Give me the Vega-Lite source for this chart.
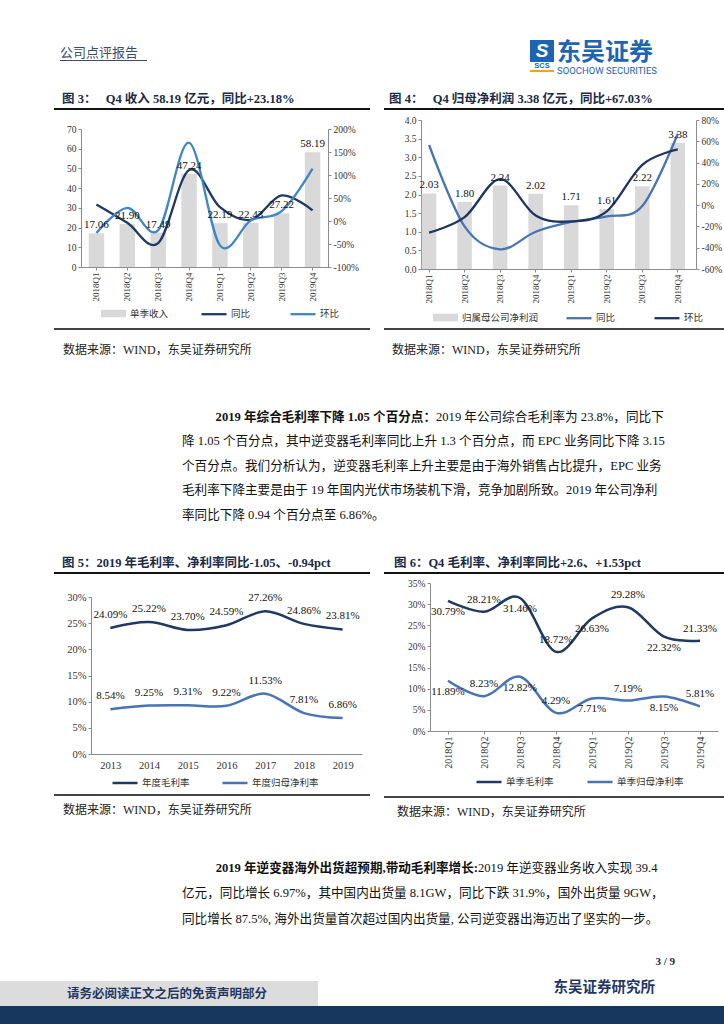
{
  "$schema": "https://vega.github.io/schema/vega-lite/v6.json",
  "padding": 0,
  "background": "#ffffff",
  "spacing": 0,
  "resolve": {"scale": {"fill": "independent", "stroke": "independent"}},
  "datasets": {"one": [{}]},
  "config": {
    "view": {"stroke": null},
    "font": "Liberation Serif, Noto Sans CJK SC",
    "axis": {"labelFont": "Liberation Serif, Noto Sans CJK SC", "labelFontSize": 9.5, "labelColor": "#333333", "domainColor": "#8c8c8c", "tickColor": "#8c8c8c", "tickSize": 3, "grid": false, "labelPadding": 2},
    "legend": {"labelFont": "Liberation Serif, Noto Sans CJK SC", "labelFontSize": 9.5, "labelColor": "#333333", "labelOffset": 3, "padding": 0},
    "title": {"font": "Liberation Serif, Noto Sans CJK SC", "frame": "group"},
    "text": {"font": "Liberation Serif, Noto Sans CJK SC"},
    "locale": {"number": {"decimal": ".", "thousands": ",", "grouping": [3], "currency": ["$", ""], "minus": "-"}}
  },
  "vconcat": [
    {"width": 724, "height": 35, "data": {"name": "one"}, "mark": {"type": "text", "fontSize": 0, "text": ""}},
    {"spacing": 0, "hconcat": [
      {"width": 60, "height": 1, "data": {"name": "one"}, "mark": {"type": "text", "fontSize": 0, "text": ""}},
      {"spacing": 0, "vconcat": [
        {"width": 87, "height": 25, "data": {"name": "one"}, "mark": {"type": "text", "fontSize": 0, "text": ""},
         "title": {"text": "公司点评报告", "orient": "bottom", "anchor": "start", "offset": -13.3, "fontSize": 13, "color": "#3b4d6e", "fontWeight": "normal"}},
        {"width": 87, "height": 1, "view": {"fill": "#3b4d6e", "stroke": null}, "data": {"name": "one"}, "mark": {"type": "text", "fontSize": 0, "text": ""}}
      ]},
      {"width": 383, "height": 1, "data": {"name": "one"}, "mark": {"type": "text", "fontSize": 0, "text": ""}},
      {"spacing": 0, "vconcat": [
        {"width": 24, "height": 5, "data": {"name": "one"}, "mark": {"type": "text", "fontSize": 0, "text": ""}},
        {"width": 24, "height": 22, "view": {"fill": "#1e64b4", "stroke": null}, "data": {"name": "one"}, "mark": {"type": "text", "text": "S", "color": "#ffffff", "fontSize": 19, "fontWeight": "bold", "fontStyle": "italic", "font": "Liberation Sans", "baseline": "middle"}},
        {"width": 24, "height": 8, "data": {"name": "one"}, "mark": {"type": "text", "text": "SCS", "color": "#1e64b4", "fontSize": 7.5, "fontWeight": "bold", "font": "Liberation Sans", "baseline": "middle"}},
        {"width": 24, "height": 2, "view": {"fill": "#f2a21b", "stroke": null}, "data": {"name": "one"}, "mark": {"type": "text", "fontSize": 0, "text": ""}}
      ]},
      {"width": 3, "height": 1, "data": {"name": "one"}, "mark": {"type": "text", "fontSize": 0, "text": ""}},
      {"width": 120, "height": 41, "data": {"name": "one"}, "mark": {"type": "text", "fontSize": 0, "text": ""},
       "title": {"text": "东吴证券", "subtitle": "SOOCHOW SECURITIES", "orient": "bottom", "anchor": "start", "offset": -35, "fontSize": 24, "fontWeight": "bold", "font": "Noto Sans CJK SC", "color": "#1e64b4", "subtitleFont": "Liberation Sans Narrow, Roboto", "subtitleFontSize": 9.5, "subtitleColor": "#1e64b4", "subtitlePadding": 1}}
    ]},
    {"width": 724, "height": 16, "data": {"name": "one"}, "mark": {"type": "text", "fontSize": 0, "text": ""}},
    {"spacing": 0, "resolve": {"scale": {"fill": "independent", "stroke": "independent"}}, "hconcat": [
      {"width": 54, "height": 1, "data": {"name": "one"}, "mark": {"type": "text", "fontSize": 0, "text": ""}},
      {"spacing": 0, "resolve": {"scale": {"fill": "independent", "stroke": "independent"}}, "vconcat": [
        {"width": 316, "height": 16, "data": {"name": "one"}, "mark": {"type": "text", "fontSize": 0, "text": ""},
         "title": {"text": "图 3：\u00a0\u00a0\u00a0Q4 收入 58.19 亿元，同比+23.18%", "orient": "bottom", "anchor": "start", "offset": -15.1, "dx": 8, "fontSize": 12.5, "fontWeight": "bold", "color": "#1b2a47"}},
        {"width": 316, "height": 2, "view": {"fill": "#111111", "stroke": null}, "data": {"name": "one"}, "mark": {"type": "text", "fontSize": 0, "text": ""}},
        {"width": 316, "height": 14, "data": {"name": "one"}, "mark": {"type": "text", "fontSize": 0, "text": ""}},
        {"spacing": 0, "resolve": {"scale": {"fill": "independent", "stroke": "independent"}}, "hconcat": [
          {"width": 12, "height": 1, "data": {"name": "one"}, "mark": {"type": "text", "fontSize": 0, "text": ""}},
          {"width": 247, "height": 138,
           "data": {"values": [
             {"q": "2018Q1", "rev": 17.06, "yoy": 0.36, "qoq": -0.26},
             {"q": "2018Q2", "rev": 21.90, "yoy": -0.04, "qoq": 0.284},
             {"q": "2018Q3", "rev": 17.49, "yoy": -0.48, "qoq": -0.201},
             {"q": "2018Q4", "rev": 47.24, "yoy": 1.11, "qoq": 1.701},
             {"q": "2019Q1", "rev": 22.19, "yoy": 0.301, "qoq": -0.530},
             {"q": "2019Q2", "rev": 22.43, "yoy": 0.024, "qoq": 0.011},
             {"q": "2019Q3", "rev": 27.22, "yoy": 0.556, "qoq": 0.214},
             {"q": "2019Q4", "rev": 58.19, "yoy": 0.2318, "qoq": 1.138}
           ]},
           "layer": [
             {"mark": {"type": "bar"},
              "encoding": {
                "x": {"field": "q", "type": "nominal", "sort": null, "scale": {"paddingInner": 0.5, "paddingOuter": 0.25}, "axis": {"title": null, "labelAngle": -90, "labelFontSize": 9}},
                "y": {"field": "rev", "type": "quantitative", "scale": {"domain": [0, 70], "nice": false}, "axis": {"title": null, "orient": "left", "values": [0, 10, 20, 30, 40, 50, 60, 70], "format": "d"}},
                "fill": {"datum": "单季收入", "scale": {"domain": ["单季收入"], "range": ["#d9d9d9"]},
                         "legend": {"orient": "none", "legendX": 19, "legendY": 171, "title": null, "symbolType": "M-1,-0.3H1V0.3H-1Z", "symbolSize": 625}}
              }},
             {"mark": {"type": "line", "interpolate": "cardinal", "strokeWidth": 2.3},
              "encoding": {
                "x": {"field": "q", "type": "nominal", "sort": null},
                "y": {"field": "yoy", "type": "quantitative", "scale": {"domain": [-1, 2], "nice": false}, "axis": {"title": null, "orient": "right", "values": [-1, -0.5, 0, 0.5, 1, 1.5, 2], "format": ".0%"}},
                "stroke": {"datum": "同比", "scale": {"domain": ["同比", "环比"], "range": ["#203864", "#3f86c8"]},
                           "legend": {"orient": "none", "legendX": 119, "legendY": 171, "direction": "horizontal", "title": null, "symbolType": "stroke", "symbolSize": 625, "symbolStrokeWidth": 2.3, "columnPadding": 34}}
              }},
             {"mark": {"type": "line", "interpolate": "cardinal", "strokeWidth": 2.3},
              "encoding": {
                "x": {"field": "q", "type": "nominal", "sort": null},
                "y": {"field": "qoq", "type": "quantitative", "scale": {"domain": [-1, 2], "nice": false}, "axis": null},
                "stroke": {"datum": "环比"}
              }},
             {"mark": {"type": "text", "baseline": "bottom", "dy": -3, "fontSize": 11, "color": "#111111"},
              "encoding": {
                "x": {"field": "q", "type": "nominal", "sort": null},
                "y": {"field": "rev", "type": "quantitative", "scale": {"domain": [0, 70], "nice": false}, "axis": null},
                "text": {"field": "rev", "type": "quantitative", "format": ".2f"}
              }}
           ],
           "resolve": {"scale": {"y": "independent"}}
          }
        ]},
        {"width": 316, "height": 9, "data": {"name": "one"}, "mark": {"type": "text", "fontSize": 0, "text": ""}},
        {"width": 316, "height": 2, "view": {"fill": "#444444", "stroke": null}, "data": {"name": "one"}, "mark": {"type": "text", "fontSize": 0, "text": ""}},
        {"width": 316, "height": 24, "data": {"name": "one"}, "mark": {"type": "text", "fontSize": 0, "text": ""},
         "title": {"text": "数据来源：WIND，东吴证券研究所", "orient": "bottom", "anchor": "start", "offset": -8.9, "dx": 9, "fontSize": 12, "fontWeight": "normal", "color": "#222222"}}
      ]},
      {"width": 14, "height": 1, "data": {"name": "one"}, "mark": {"type": "text", "fontSize": 0, "text": ""}},
      {"spacing": 0, "resolve": {"scale": {"fill": "independent", "stroke": "independent"}}, "vconcat": [
        {"width": 340, "height": 16, "data": {"name": "one"}, "mark": {"type": "text", "fontSize": 0, "text": ""},
         "title": {"text": "图 4：\u00a0\u00a0\u00a0Q4 归母净利润 3.38 亿元，同比+67.03%", "orient": "bottom", "anchor": "start", "offset": -15.1, "dx": 5, "fontSize": 12.5, "fontWeight": "bold", "color": "#1b2a47"}},
        {"width": 340, "height": 2, "view": {"fill": "#111111", "stroke": null}, "data": {"name": "one"}, "mark": {"type": "text", "fontSize": 0, "text": ""}},
        {"width": 340, "height": 5, "data": {"name": "one"}, "mark": {"type": "text", "fontSize": 0, "text": ""}},
        {"spacing": 0, "resolve": {"scale": {"fill": "independent", "stroke": "independent"}}, "hconcat": [
          {"width": 20, "height": 1, "data": {"name": "one"}, "mark": {"type": "text", "fontSize": 0, "text": ""}},
          {"width": 275, "height": 149,
           "data": {"values": [
             {"q": "2018Q1", "np": 2.03, "yoy": 0.565, "qoq": -0.259},
             {"q": "2018Q2", "np": 1.80, "yoy": -0.20, "qoq": -0.113},
             {"q": "2018Q3", "np": 2.24, "yoy": -0.415, "qoq": 0.244},
             {"q": "2018Q4", "np": 2.02, "yoy": -0.25, "qoq": -0.098},
             {"q": "2019Q1", "np": 1.71, "yoy": -0.158, "qoq": -0.153},
             {"q": "2019Q2", "np": 1.61, "yoy": -0.106, "qoq": -0.058},
             {"q": "2019Q3", "np": 2.22, "yoy": -0.009, "qoq": 0.379},
             {"q": "2019Q4", "np": 3.38, "yoy": 0.6703, "qoq": 0.523}
           ]},
           "layer": [
             {"mark": {"type": "bar"},
              "encoding": {
                "x": {"field": "q", "type": "nominal", "sort": null, "scale": {"paddingInner": 0.59, "paddingOuter": 0.164, "align": 0.065}, "axis": {"title": null, "labelAngle": -90, "labelFontSize": 9}},
                "y": {"field": "np", "type": "quantitative", "scale": {"domain": [0, 4], "nice": false}, "axis": {"title": null, "orient": "left", "values": [0, 0.5, 1, 1.5, 2, 2.5, 3, 3.5, 4], "format": ".1f"}},
                "fill": {"datum": "归属母公司净利润", "scale": {"domain": ["归属母公司净利润"], "range": ["#d9d9d9"]},
                         "legend": {"orient": "none", "legendX": 11, "legendY": 184, "title": null, "symbolType": "M-1,-0.3H1V0.3H-1Z", "symbolSize": 625}}
              }},
             {"mark": {"type": "line", "interpolate": "cardinal", "strokeWidth": 2.3},
              "encoding": {
                "x": {"field": "q", "type": "nominal", "sort": null},
                "y": {"field": "yoy", "type": "quantitative", "scale": {"domain": [-0.6, 0.8], "nice": false}, "axis": {"title": null, "orient": "right", "values": [-0.6, -0.4, -0.2, 0, 0.2, 0.4, 0.6, 0.8], "format": ".0%"}},
                "stroke": {"datum": "同比", "scale": {"domain": ["同比", "环比"], "range": ["#4873b4", "#1e3560"]},
                           "legend": {"orient": "none", "legendX": 144, "legendY": 184, "direction": "horizontal", "title": null, "symbolType": "stroke", "symbolSize": 625, "symbolStrokeWidth": 2.3, "columnPadding": 33}}
              }},
             {"mark": {"type": "line", "interpolate": "cardinal", "strokeWidth": 2.3},
              "encoding": {
                "x": {"field": "q", "type": "nominal", "sort": null},
                "y": {"field": "qoq", "type": "quantitative", "scale": {"domain": [-0.6, 0.8], "nice": false}, "axis": null},
                "stroke": {"datum": "环比"}
              }},
             {"mark": {"type": "text", "baseline": "bottom", "dy": -3, "fontSize": 11, "color": "#111111"},
              "encoding": {
                "x": {"field": "q", "type": "nominal", "sort": null},
                "y": {"field": "np", "type": "quantitative", "scale": {"domain": [0, 4], "nice": false}, "axis": null},
                "text": {"field": "np", "type": "quantitative", "format": ".2f"}
              }}
           ],
           "resolve": {"scale": {"y": "independent"}}
          }
        ]},
        {"width": 340, "height": 5, "data": {"name": "one"}, "mark": {"type": "text", "fontSize": 0, "text": ""}},
        {"width": 340, "height": 2, "view": {"fill": "#444444", "stroke": null}, "data": {"name": "one"}, "mark": {"type": "text", "fontSize": 0, "text": ""}},
        {"width": 340, "height": 24, "data": {"name": "one"}, "mark": {"type": "text", "fontSize": 0, "text": ""},
         "title": {"text": "数据来源：WIND，东吴证券研究所", "orient": "bottom", "anchor": "start", "offset": -8.9, "dx": 8, "fontSize": 12, "fontWeight": "normal", "color": "#222222"}}
      ]}
    ]},
    {"width": 724, "height": 53, "data": {"name": "one"}, "mark": {"type": "text", "fontSize": 0, "text": ""}},
    {"spacing": 0, "vconcat": [
      {"spacing": 0, "hconcat": [
        {"width": 436, "height": 25, "data": {"name": "one"}, "mark": {"type": "text", "fontSize": 0, "text": ""},
         "title": {"text": "2019 年综合毛利率下降 1.05 个百分点：", "orient": "bottom", "anchor": "end", "offset": -24.3, "fontSize": 12.6, "fontWeight": "bold", "color": "#111111"}},
        {"width": 288, "height": 25, "data": {"name": "one"}, "mark": {"type": "text", "fontSize": 0, "text": ""},
         "title": {"text": "2019 年公司综合毛利率为 23.8%，同比下", "orient": "bottom", "anchor": "start", "offset": -24.3, "fontSize": 12.6, "fontWeight": "normal", "color": "#111111"}}
      ]},
      {"width": 700, "height": 100, "data": {"name": "one"}, "mark": {"type": "text", "fontSize": 0, "text": ""},
       "title": {"text": ["降 1.05 个百分点，其中逆变器毛利率同比上升 1.3 个百分点，而 EPC 业务同比下降 3.15", "个百分点。我们分析认为，逆变器毛利率上升主要是由于海外销售占比提升，EPC 业务", "毛利率下降主要是由于 19 年国内光伏市场装机下滑，竞争加剧所致。2019 年公司净利", "率同比下降 0.94 个百分点至 6.86%。"], "orient": "bottom", "anchor": "start", "dx": 182, "offset": -99.7, "lineHeight": 24.6, "fontSize": 12.6, "fontWeight": "normal", "color": "#111111"}}
    ]},
    {"width": 724, "height": 21, "data": {"name": "one"}, "mark": {"type": "text", "fontSize": 0, "text": ""}},
    {"spacing": 0, "resolve": {"scale": {"fill": "independent", "stroke": "independent"}}, "hconcat": [
      {"width": 54, "height": 1, "data": {"name": "one"}, "mark": {"type": "text", "fontSize": 0, "text": ""}},
      {"spacing": 0, "resolve": {"scale": {"fill": "independent", "stroke": "independent"}}, "vconcat": [
        {"width": 316, "height": 16, "data": {"name": "one"}, "mark": {"type": "text", "fontSize": 0, "text": ""},
         "title": {"text": "图 5：2019 年毛利率、净利率同比-1.05、-0.94pct", "orient": "bottom", "anchor": "start", "offset": -15.1, "dx": 8, "fontSize": 12.5, "fontWeight": "bold", "color": "#1b2a47"}},
        {"width": 316, "height": 2, "view": {"fill": "#111111", "stroke": null}, "data": {"name": "one"}, "mark": {"type": "text", "fontSize": 0, "text": ""}},
        {"width": 316, "height": 18, "data": {"name": "one"}, "mark": {"type": "text", "fontSize": 0, "text": ""}},
        {"spacing": 0, "resolve": {"scale": {"fill": "independent", "stroke": "independent"}}, "hconcat": [
          {"width": 12, "height": 1, "data": {"name": "one"}, "mark": {"type": "text", "fontSize": 0, "text": ""}},
          {"width": 271, "height": 157,
           "data": {"values": [
             {"year": "2013", "年度毛利率": 0.2409, "年度归母净利率": 0.0854},
             {"year": "2014", "年度毛利率": 0.2522, "年度归母净利率": 0.0925},
             {"year": "2015", "年度毛利率": 0.2370, "年度归母净利率": 0.0931},
             {"year": "2016", "年度毛利率": 0.2459, "年度归母净利率": 0.0922},
             {"year": "2017", "年度毛利率": 0.2726, "年度归母净利率": 0.1153},
             {"year": "2018", "年度毛利率": 0.2486, "年度归母净利率": 0.0781},
             {"year": "2019", "年度毛利率": 0.2381, "年度归母净利率": 0.0686}
           ]},
           "transform": [{"fold": ["年度毛利率", "年度归母净利率"], "as": ["series", "v"]}],
           "encoding": {
             "x": {"field": "year", "type": "ordinal", "sort": null, "scale": {"type": "point", "padding": 0.5}, "axis": {"title": null, "labelAngle": 0, "labelFontSize": 10.5, "ticks": false, "labelPadding": 6}},
             "y": {"field": "v", "type": "quantitative", "scale": {"domain": [0, 0.3], "nice": false}, "axis": {"title": null, "values": [0, 0.05, 0.1, 0.15, 0.2, 0.25, 0.3], "format": ".0%", "labelFontSize": 10.5}}
           },
           "layer": [
             {"mark": {"type": "line", "interpolate": "cardinal", "strokeWidth": 2.5},
              "encoding": {"stroke": {"field": "series", "type": "nominal", "scale": {"domain": ["年度毛利率", "年度归母净利率"], "range": ["#203864", "#4873b4"]},
                "legend": {"orient": "none", "legendX": 20, "legendY": 172, "direction": "horizontal", "title": null, "symbolType": "stroke", "symbolSize": 625, "symbolStrokeWidth": 2.5, "columnPadding": 27}}}},
             {"mark": {"type": "text", "baseline": "bottom", "dy": -8, "fontSize": 11, "color": "#111111"},
              "encoding": {"text": {"field": "v", "type": "quantitative", "format": ".2%"}}}
           ]
          }
        ]},
        {"width": 316, "height": 6, "data": {"name": "one"}, "mark": {"type": "text", "fontSize": 0, "text": ""}},
        {"width": 316, "height": 2, "view": {"fill": "#444444", "stroke": null}, "data": {"name": "one"}, "mark": {"type": "text", "fontSize": 0, "text": ""}},
        {"width": 316, "height": 24, "data": {"name": "one"}, "mark": {"type": "text", "fontSize": 0, "text": ""},
         "title": {"text": "数据来源：WIND，东吴证券研究所", "orient": "bottom", "anchor": "start", "offset": -14.9, "dx": 9, "fontSize": 12, "fontWeight": "normal", "color": "#222222"}}
      ]},
      {"width": 14, "height": 1, "data": {"name": "one"}, "mark": {"type": "text", "fontSize": 0, "text": ""}},
      {"spacing": 0, "resolve": {"scale": {"fill": "independent", "stroke": "independent"}}, "vconcat": [
        {"width": 340, "height": 16, "data": {"name": "one"}, "mark": {"type": "text", "fontSize": 0, "text": ""},
         "title": {"text": "图 6：Q4 毛利率、净利率同比+2.6、+1.53pct", "orient": "bottom", "anchor": "start", "offset": -15.1, "dx": 10, "fontSize": 12.5, "fontWeight": "bold", "color": "#1b2a47"}},
        {"width": 340, "height": 2, "view": {"fill": "#111111", "stroke": null}, "data": {"name": "one"}, "mark": {"type": "text", "fontSize": 0, "text": ""}},
        {"width": 340, "height": 4, "data": {"name": "one"}, "mark": {"type": "text", "fontSize": 0, "text": ""}},
        {"spacing": 0, "resolve": {"scale": {"fill": "independent", "stroke": "independent"}}, "hconcat": [
          {"width": 23, "height": 1, "data": {"name": "one"}, "mark": {"type": "text", "fontSize": 0, "text": ""}},
          {"width": 288, "height": 148,
           "data": {"values": [
             {"q": "2018Q1", "单季毛利率": 0.3079, "单季归母净利率": 0.1189},
             {"q": "2018Q2", "单季毛利率": 0.2821, "单季归母净利率": 0.0823},
             {"q": "2018Q3", "单季毛利率": 0.3146, "单季归母净利率": 0.1282},
             {"q": "2018Q4", "单季毛利率": 0.1872, "单季归母净利率": 0.0429},
             {"q": "2019Q1", "单季毛利率": 0.2663, "单季归母净利率": 0.0771},
             {"q": "2019Q2", "单季毛利率": 0.2928, "单季归母净利率": 0.0719},
             {"q": "2019Q3", "单季毛利率": 0.2232, "单季归母净利率": 0.0815},
             {"q": "2019Q4", "单季毛利率": 0.2133, "单季归母净利率": 0.0581}
           ]},
           "transform": [{"fold": ["单季毛利率", "单季归母净利率"], "as": ["series", "v"]}],
           "encoding": {
             "x": {"field": "q", "type": "ordinal", "sort": null, "scale": {"type": "point", "padding": 0.5}, "axis": {"title": null, "labelAngle": -90, "labelFontSize": 10}},
             "y": {"field": "v", "type": "quantitative", "scale": {"domain": [0, 0.35], "nice": false}, "axis": {"title": null, "values": [0, 0.05, 0.1, 0.15, 0.2, 0.25, 0.3, 0.35], "format": ".0%"}}
           },
           "layer": [
             {"mark": {"type": "line", "interpolate": "cardinal", "strokeWidth": 2.5},
              "encoding": {"stroke": {"field": "series", "type": "nominal", "scale": {"domain": ["单季毛利率", "单季归母净利率"], "range": ["#203864", "#4873b4"]},
                "legend": {"orient": "none", "legendX": 45, "legendY": 185, "direction": "horizontal", "title": null, "symbolType": "stroke", "symbolSize": 625, "symbolStrokeWidth": 2.5, "columnPadding": 28}}}},
             {"transform": [{"filter": "test(/Q[24]$/, datum.q)"}],
              "mark": {"type": "text", "baseline": "bottom", "dy": -7, "fontSize": 11, "color": "#111111"},
              "encoding": {"text": {"field": "v", "type": "quantitative", "format": ".2%"}}},
             {"transform": [{"filter": "test(/Q[13]$/, datum.q)"}],
              "mark": {"type": "text", "baseline": "top", "dy": 5, "fontSize": 11, "color": "#111111"},
              "encoding": {"text": {"field": "v", "type": "quantitative", "format": ".2%"}}}
           ]
          }
        ]},
        {"width": 340, "height": 9, "data": {"name": "one"}, "mark": {"type": "text", "fontSize": 0, "text": ""}},
        {"width": 340, "height": 2, "view": {"fill": "#444444", "stroke": null}, "data": {"name": "one"}, "mark": {"type": "text", "fontSize": 0, "text": ""}},
        {"width": 340, "height": 24, "data": {"name": "one"}, "mark": {"type": "text", "fontSize": 0, "text": ""},
         "title": {"text": "数据来源：WIND，东吴证券研究所", "orient": "bottom", "anchor": "start", "offset": -14.9, "dx": 13, "fontSize": 12, "fontWeight": "normal", "color": "#222222"}}
      ]}
    ]},
    {"width": 724, "height": 39, "data": {"name": "one"}, "mark": {"type": "text", "fontSize": 0, "text": ""}},
    {"spacing": 0, "vconcat": [
      {"spacing": 0, "hconcat": [
        {"width": 478, "height": 25, "data": {"name": "one"}, "mark": {"type": "text", "fontSize": 0, "text": ""},
         "title": {"text": "2019 年逆变器海外出货超预期,带动毛利率增长:", "orient": "bottom", "anchor": "end", "offset": -24.3, "fontSize": 12.6, "fontWeight": "bold", "color": "#111111"}},
        {"width": 246, "height": 25, "data": {"name": "one"}, "mark": {"type": "text", "fontSize": 0, "text": ""},
         "title": {"text": "2019 年逆变器业务收入实现 39.4", "orient": "bottom", "anchor": "start", "offset": -24.3, "fontSize": 12.6, "fontWeight": "normal", "color": "#111111"}}
      ]},
      {"width": 700, "height": 60, "data": {"name": "one"}, "mark": {"type": "text", "fontSize": 0, "text": ""},
       "title": {"text": ["亿元，同比增长 6.97%，其中国内出货量 8.1GW，同比下跌 31.9%，国外出货量 9GW，", "同比增长 87.5%, 海外出货量首次超过国内出货量, 公司逆变器出海迈出了坚实的一步。"], "orient": "bottom", "anchor": "start", "dx": 182, "offset": -58.8, "lineHeight": 25.5, "fontSize": 12.6, "fontWeight": "normal", "color": "#111111"}}
    ]},
    {"spacing": 0, "vconcat": [
      {"width": 724, "height": 34, "data": {"name": "one"}, "mark": {"type": "text", "fontSize": 0, "text": ""},
       "title": {"text": "3 / 9", "orient": "bottom", "anchor": "end", "dx": -49, "offset": -23.8, "fontSize": 11, "fontWeight": "bold", "color": "#1b2a47"}},
      {"spacing": 0, "hconcat": [
        {"width": 318, "height": 25, "view": {"fill": "#dcdcdc", "stroke": null}, "data": {"name": "one"}, "mark": {"type": "text", "text": "请务必阅读正文之后的免责声明部分", "fontSize": 12.5, "fontWeight": "bold", "color": "#1f3864", "baseline": "middle", "dx": 8}},
        {"width": 406, "height": 25, "data": {"name": "one"}, "mark": {"type": "text", "fontSize": 0, "text": ""},
         "title": {"text": "东吴证券研究所", "orient": "bottom", "anchor": "end", "dx": -69, "offset": -24.9, "fontSize": 14.5, "fontWeight": "bold", "color": "#1f3864"}}
      ]},
      {"width": 724, "height": 19, "view": {"fill": "#17375e", "stroke": null}, "data": {"name": "one"}, "mark": {"type": "text", "fontSize": 0, "text": ""}}
    ]}
  ]
}
